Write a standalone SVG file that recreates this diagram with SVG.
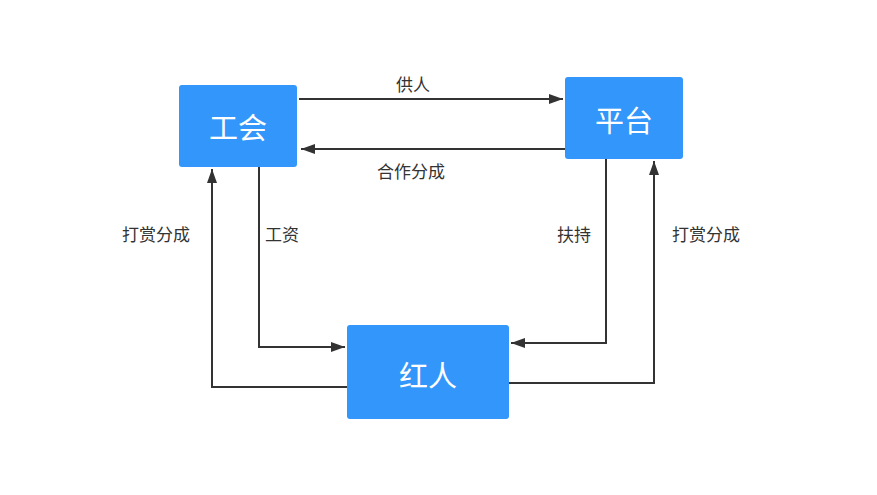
<svg xmlns="http://www.w3.org/2000/svg" width="877" height="495" viewBox="0 0 877 495">
  <style>
    .box { fill: #3396FA; }
    .boxtext { fill: #FFFFFF; font-family: "Noto Sans CJK SC", "Liberation Sans", sans-serif; font-size: 29px; text-anchor: middle; dominant-baseline: central; }
    .edge { fill: none; stroke: #333333; stroke-width: 2; }
    .label { fill: #333333; font-family: "Noto Sans CJK SC", "Liberation Sans", sans-serif; font-size: 17px; text-anchor: middle; dominant-baseline: central; }
  </style>
  <defs>
    <marker id="arrow" viewBox="0 0 14 10" refX="14" refY="5" markerWidth="14" markerHeight="10" markerUnits="userSpaceOnUse" orient="auto">
      <path d="M0,0 L14,5 L0,10 Z" fill="#333333"/>
    </marker>
  </defs>
  <rect width="877" height="495" fill="#FFFFFF"/>

  <g id="connectors">
    <!-- 工会 → 平台 -->
    <path class="edge" d="M299,99 H563" marker-end="url(#arrow)"/>
    <!-- 平台 → 工会 -->
    <path class="edge" d="M565,149 H301" marker-end="url(#arrow)"/>
    <!-- 工会 → 红人 -->
    <path class="edge" d="M259,167 V347 H345" marker-end="url(#arrow)"/>
    <!-- 红人 → 工会 -->
    <path class="edge" d="M347,387 H212 V169" marker-end="url(#arrow)"/>
    <!-- 平台 → 红人 -->
    <path class="edge" d="M606,159 V343 H511" marker-end="url(#arrow)"/>
    <!-- 红人 → 平台 -->
    <path class="edge" d="M509,383 H654 V161" marker-end="url(#arrow)"/>
    <text class="label" x="413" y="83">供人</text>
    <text class="label" x="411" y="170">合作分成</text>
    <text class="label" x="156" y="233">打赏分成</text>
    <text class="label" x="282" y="233">工资</text>
    <text class="label" x="574" y="233">扶持</text>
    <text class="label" x="706" y="233">打赏分成</text>
  </g>

  <g id="node-union">
    <rect class="box" x="179" y="85" width="118" height="82" rx="3"/>
    <text class="boxtext" x="238" y="126">工会</text>
  </g>
  <g id="node-platform">
    <rect class="box" x="565" y="77" width="118" height="82" rx="3"/>
    <text class="boxtext" x="624" y="119">平台</text>
  </g>
  <g id="node-influencer">
    <rect class="box" x="347" y="325" width="162" height="94" rx="3"/>
    <text class="boxtext" x="428" y="374">红人</text>
  </g>
</svg>
